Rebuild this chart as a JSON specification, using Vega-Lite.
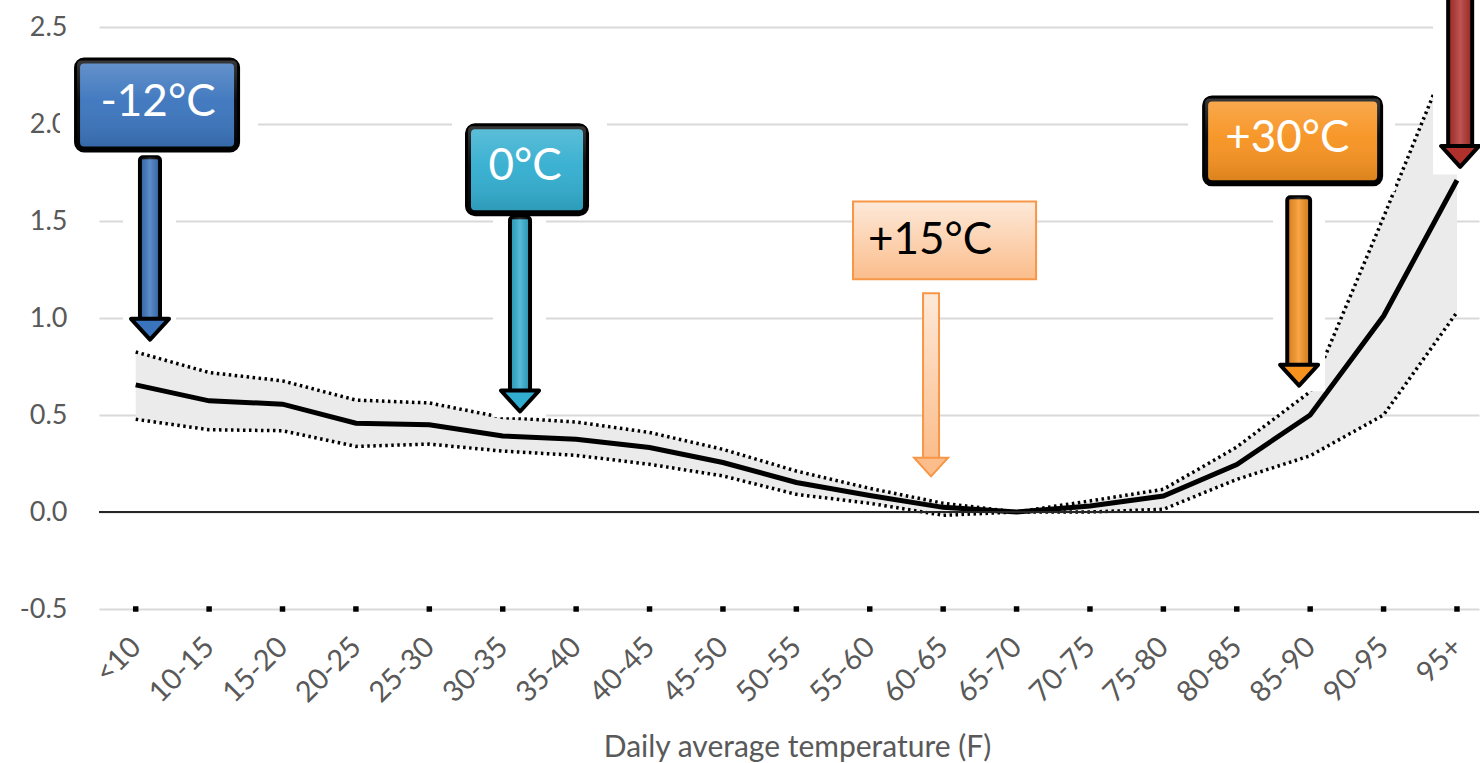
{
  "$schema": "https://vega.github.io/schema/vega-lite/v6.json",
  "width": 1380,
  "height": 582,
  "autosize": "none",
  "padding": {"left": 99, "top": 27, "right": 1, "bottom": 154},
  "background": "white",
  "config": {
    "view": {"stroke": null},
    "font": "Lato",
    "axis": {"labelFont": "Lato", "labelFontSize": 27, "labelColor": "#595959", "titleFont": "Lato", "titleFontSize": 30, "titleColor": "#595959", "titleFontWeight": "normal"}
  },
  "datasets": {
    "series": [
      {"cat": "<10", "x": 0, "mid": 0.655, "lo": 0.478, "hi": 0.825},
      {"cat": "10-15", "x": 1, "mid": 0.573, "lo": 0.424, "hi": 0.719},
      {"cat": "15-20", "x": 2, "mid": 0.556, "lo": 0.419, "hi": 0.676},
      {"cat": "20-25", "x": 3, "mid": 0.458, "lo": 0.338, "hi": 0.577},
      {"cat": "25-30", "x": 4, "mid": 0.45, "lo": 0.35, "hi": 0.562},
      {"cat": "30-35", "x": 5, "mid": 0.392, "lo": 0.314, "hi": 0.487},
      {"cat": "35-40", "x": 6, "mid": 0.375, "lo": 0.292, "hi": 0.464},
      {"cat": "40-45", "x": 7, "mid": 0.332, "lo": 0.246, "hi": 0.41},
      {"cat": "45-50", "x": 8, "mid": 0.255, "lo": 0.186, "hi": 0.323},
      {"cat": "50-55", "x": 9, "mid": 0.152, "lo": 0.091, "hi": 0.211},
      {"cat": "55-60", "x": 10, "mid": 0.085, "lo": 0.045, "hi": 0.122},
      {"cat": "60-65", "x": 11, "mid": 0.024, "lo": -0.017, "hi": 0.045},
      {"cat": "65-70", "x": 12, "mid": 0.0, "lo": 0.0, "hi": 0.0},
      {"cat": "70-75", "x": 13, "mid": 0.031, "lo": 0.0, "hi": 0.057},
      {"cat": "75-80", "x": 14, "mid": 0.082, "lo": 0.014, "hi": 0.117},
      {"cat": "80-85", "x": 15, "mid": 0.245, "lo": 0.168, "hi": 0.335},
      {"cat": "85-90", "x": 16, "mid": 0.5, "lo": 0.29, "hi": 0.62},
      {"cat": "90-95", "x": 17, "mid": 1.01, "lo": 0.5, "hi": 1.52},
      {"cat": "95+", "x": 18, "mid": 1.71, "lo": 1.03, "hi": 2.45}
    ],
    "bg": [
      {"x": -1.031, "x2": 1.666, "y": 2.436, "y2": 1.838},
      {"x": -0.173, "x2": 0.549, "y": 1.838, "y2": 0.865},
      {"x": 4.309, "x2": 6.42, "y": 2.065, "y2": 1.535},
      {"x": 4.868, "x2": 5.59, "y": 1.535, "y2": 0.489},
      {"x": 14.337, "x2": 17.157, "y": 2.204, "y2": 1.653},
      {"x": 15.494, "x2": 16.203, "y": 1.653, "y2": 0.623},
      {"x": 17.674, "x2": 18.4, "y": 2.693, "y2": 1.74}
    ],
    "boxes": [
      {"label": "-12°C", "x": -0.799, "x2": 1.381, "y": 2.327, "y2": 1.869, "tx": 0.304, "ty": 2.11},
      {"label": "0°C", "x": 4.527, "x2": 6.135, "y": 1.988, "y2": 1.54, "tx": 5.305, "ty": 1.777},
      {"label": "+30°C", "x": 14.569, "x2": 16.953, "y": 2.132, "y2": 1.694, "tx": 15.688, "ty": 1.921}
    ],
    "box15": [
      {"label": "+15°C", "x": 9.772, "x2": 12.266, "y": 1.601, "y2": 1.2, "tx": 10.821, "ty": 1.395}
    ],
    "shafts": [
      {"label": "-12°C", "x": 0.058, "x2": 0.331, "y": 1.828, "y2": 0.994},
      {"label": "0°C", "x": 5.099, "x2": 5.372, "y": 1.519, "y2": 0.608},
      {"label": "+30°C", "x": 15.688, "x2": 15.999, "y": 1.622, "y2": 0.747},
      {"label": "95+", "x": 17.88, "x2": 18.207, "y": 2.667, "y2": 1.869}
    ],
    "shaft15": [
      {"label": "+15°C", "x": 10.726, "x2": 10.944, "y": 1.128, "y2": 0.273}
    ],
    "heads": [
      {"label": "-12°C", "x": 0.195, "y": 0.942},
      {"label": "0°C", "x": 5.236, "y": 0.572},
      {"label": "+30°C", "x": 15.849, "y": 0.705},
      {"label": "95+", "x": 18.043, "y": 1.833}
    ],
    "head15": [
      {"label": "+15°C", "x": 10.835, "y": 0.232}
    ]
  },
  "encoding": {
    "x": {
      "field": "x",
      "type": "quantitative",
      "scale": {"domain": [-0.5, 18.3], "nice": false, "zero": false},
      "axis": {
        "values": [0, 1, 2, 3, 4, 5, 6, 7, 8, 9, 10, 11, 12, 13, 14, 15, 16, 17, 18],
        "labelExpr": "['<10','10-15','15-20','20-25','25-30','30-35','35-40','40-45','45-50','50-55','55-60','60-65','65-70','70-75','75-80','80-85','85-90','90-95','95+'][datum.value]",
        "labelAngle": -45,
        "labelAlign": "right",
        "labelBaseline": "middle",
        "labelFontSize": 29,
        "labelPadding": 33,
        "labelOverlap": false,
        "labelBound": false,
        "labelFlush": false,
        "grid": false,
        "ticks": false,
        "domain": false,
        "title": "Daily average temperature (F)",
        "titleX": 698,
        "titleY": 147,
        "titleBaseline": "alphabetic"
      }
    }
  },
  "layer": [
    {
      "data": {"name": "series"},
      "mark": {"type": "area", "color": "#ebebeb", "opacity": 1},
      "encoding": {
        "y": {"field": "lo", "type": "quantitative", "scale": {"domain": [-0.5, 2.5], "nice": false, "zero": false}, "axis": {"values": [-0.5, 0, 0.5, 1, 1.5, 2, 2.5], "format": ".1f", "labelExpr": "replace(datum.label, '\u2212', '-')", "grid": true, "gridColor": "#d9d9d9", "gridWidth": 2, "ticks": false, "domain": false, "labelPadding": 32, "title": null}},
        "y2": {"field": "hi"}
      }
    },
    {
      "data": {"name": "series"},
      "mark": {"type": "line", "color": "black", "strokeWidth": 3.5, "strokeDash": [2.5, 3.5]},
      "encoding": {"y": {"field": "hi", "type": "quantitative", "scale": {"domain": [-0.5, 2.5], "nice": false, "zero": false}, "axis": {"values": [-0.5, 0, 0.5, 1, 1.5, 2, 2.5], "format": ".1f", "labelExpr": "replace(datum.label, '\u2212', '-')", "grid": true, "gridColor": "#d9d9d9", "gridWidth": 2, "ticks": false, "domain": false, "labelPadding": 32, "title": null}}}
    },
    {
      "data": {"name": "series"},
      "mark": {"type": "line", "color": "black", "strokeWidth": 3.5, "strokeDash": [2.5, 3.5]},
      "encoding": {"y": {"field": "lo", "type": "quantitative", "scale": {"domain": [-0.5, 2.5], "nice": false, "zero": false}, "axis": {"values": [-0.5, 0, 0.5, 1, 1.5, 2, 2.5], "format": ".1f", "labelExpr": "replace(datum.label, '\u2212', '-')", "grid": true, "gridColor": "#d9d9d9", "gridWidth": 2, "ticks": false, "domain": false, "labelPadding": 32, "title": null}}}
    },
    {
      "data": {"name": "series"},
      "mark": {"type": "line", "color": "black", "strokeWidth": 5},
      "encoding": {"y": {"field": "mid", "type": "quantitative", "scale": {"domain": [-0.5, 2.5], "nice": false, "zero": false}, "axis": {"values": [-0.5, 0, 0.5, 1, 1.5, 2, 2.5], "format": ".1f", "labelExpr": "replace(datum.label, '\u2212', '-')", "grid": true, "gridColor": "#d9d9d9", "gridWidth": 2, "ticks": false, "domain": false, "labelPadding": 32, "title": null}}}
    },
    {
      "data": {"values": [{}]},
      "mark": {"type": "rule", "color": "#262626", "strokeWidth": 2},
      "encoding": {"x": null, "y": {"datum": 0, "type": "quantitative", "scale": {"domain": [-0.5, 2.5], "nice": false, "zero": false}, "axis": {"values": [-0.5, 0, 0.5, 1, 1.5, 2, 2.5], "format": ".1f", "labelExpr": "replace(datum.label, '\u2212', '-')", "grid": true, "gridColor": "#d9d9d9", "gridWidth": 2, "ticks": false, "domain": false, "labelPadding": 32, "title": null}}}
    },
    {
      "data": {"name": "series"},
      "mark": {"type": "point", "shape": "square", "filled": true, "color": "black", "size": 30, "opacity": 1},
      "encoding": {"y": {"datum": -0.5, "type": "quantitative", "scale": {"domain": [-0.5, 2.5], "nice": false, "zero": false}, "axis": {"values": [-0.5, 0, 0.5, 1, 1.5, 2, 2.5], "format": ".1f", "labelExpr": "replace(datum.label, '\u2212', '-')", "grid": true, "gridColor": "#d9d9d9", "gridWidth": 2, "ticks": false, "domain": false, "labelPadding": 32, "title": null}}}
    },
    {
      "data": {"name": "bg"},
      "mark": {"type": "rect", "color": "white", "clip": false},
      "encoding": {
        "x2": {"field": "x2"},
        "y": {"field": "y", "type": "quantitative", "scale": {"domain": [-0.5, 2.5], "nice": false, "zero": false}, "axis": {"values": [-0.5, 0, 0.5, 1, 1.5, 2, 2.5], "format": ".1f", "labelExpr": "replace(datum.label, '\u2212', '-')", "grid": true, "gridColor": "#d9d9d9", "gridWidth": 2, "ticks": false, "domain": false, "labelPadding": 32, "title": null}},
        "y2": {"field": "y2"}
      }
    },
    {
      "data": {"name": "boxes"},
      "mark": {"type": "rect", "stroke": "black", "strokeWidth": 6, "cornerRadius": 7, "opacity": 1},
      "encoding": {
        "x2": {"field": "x2"},
        "y": {"field": "y", "type": "quantitative", "scale": {"domain": [-0.5, 2.5], "nice": false, "zero": false}, "axis": {"values": [-0.5, 0, 0.5, 1, 1.5, 2, 2.5], "format": ".1f", "labelExpr": "replace(datum.label, '\u2212', '-')", "grid": true, "gridColor": "#d9d9d9", "gridWidth": 2, "ticks": false, "domain": false, "labelPadding": 32, "title": null}},
        "y2": {"field": "y2"},
        "fill": {"field": "label", "type": "nominal", "scale": {"domain": ["-12°C", "0°C", "+30°C", "95+"], "range": ["#3a74bd", "#31adcf", "#f7921f", "#b0302c"]}, "legend": null}
      }
    },
    {
      "data": {"name": "boxes"},
      "mark": {"type": "rect", "cornerRadius": 4, "fill": {"gradient": "linear", "x1": 0, "y1": 0, "x2": 0, "y2": 1, "stops": [{"offset": 0, "color": "rgba(255,255,255,0.22)"}, {"offset": 0.45, "color": "rgba(255,255,255,0.05)"}, {"offset": 1, "color": "rgba(0,0,0,0.12)"}]}},
      "encoding": {
        "x2": {"field": "x2"},
        "y": {"field": "y", "type": "quantitative", "scale": {"domain": [-0.5, 2.5], "nice": false, "zero": false}, "axis": {"values": [-0.5, 0, 0.5, 1, 1.5, 2, 2.5], "format": ".1f", "labelExpr": "replace(datum.label, '\u2212', '-')", "grid": true, "gridColor": "#d9d9d9", "gridWidth": 2, "ticks": false, "domain": false, "labelPadding": 32, "title": null}},
        "y2": {"field": "y2"}
      }
    },
    {
      "data": {"name": "box15"},
      "mark": {"type": "rect", "stroke": "#f79646", "strokeWidth": 2, "fill": {"gradient": "linear", "x1": 0, "y1": 0, "x2": 0, "y2": 1, "stops": [{"offset": 0, "color": "#fde9d9"}, {"offset": 1, "color": "#fbbd8b"}]}},
      "encoding": {
        "x2": {"field": "x2"},
        "y": {"field": "y", "type": "quantitative", "scale": {"domain": [-0.5, 2.5], "nice": false, "zero": false}, "axis": {"values": [-0.5, 0, 0.5, 1, 1.5, 2, 2.5], "format": ".1f", "labelExpr": "replace(datum.label, '\u2212', '-')", "grid": true, "gridColor": "#d9d9d9", "gridWidth": 2, "ticks": false, "domain": false, "labelPadding": 32, "title": null}},
        "y2": {"field": "y2"}
      }
    },
    {
      "data": {"name": "shafts"},
      "mark": {"type": "rect", "stroke": "black", "strokeWidth": 4, "cornerRadius": 3, "clip": false},
      "encoding": {
        "x2": {"field": "x2"},
        "y": {"field": "y", "type": "quantitative", "scale": {"domain": [-0.5, 2.5], "nice": false, "zero": false}, "axis": {"values": [-0.5, 0, 0.5, 1, 1.5, 2, 2.5], "format": ".1f", "labelExpr": "replace(datum.label, '\u2212', '-')", "grid": true, "gridColor": "#d9d9d9", "gridWidth": 2, "ticks": false, "domain": false, "labelPadding": 32, "title": null}},
        "y2": {"field": "y2"},
        "fill": {"field": "label", "type": "nominal", "scale": {"domain": ["-12°C", "0°C", "+30°C", "95+"], "range": ["#3a74bd", "#31adcf", "#f7921f", "#b0302c"]}, "legend": null}
      }
    },
    {
      "data": {"name": "shafts"},
      "mark": {"type": "rect", "clip": false, "fill": {"gradient": "linear", "x1": 0, "y1": 0, "x2": 1, "y2": 0, "stops": [{"offset": 0, "color": "rgba(0,0,0,0.12)"}, {"offset": 0.5, "color": "rgba(255,255,255,0.18)"}, {"offset": 1, "color": "rgba(0,0,0,0.15)"}]}},
      "encoding": {
        "x2": {"field": "x2"},
        "y": {"field": "y", "type": "quantitative", "scale": {"domain": [-0.5, 2.5], "nice": false, "zero": false}, "axis": {"values": [-0.5, 0, 0.5, 1, 1.5, 2, 2.5], "format": ".1f", "labelExpr": "replace(datum.label, '\u2212', '-')", "grid": true, "gridColor": "#d9d9d9", "gridWidth": 2, "ticks": false, "domain": false, "labelPadding": 32, "title": null}},
        "y2": {"field": "y2"}
      }
    },
    {
      "data": {"name": "shaft15"},
      "mark": {"type": "rect", "stroke": "#f79646", "strokeWidth": 2, "fill": {"gradient": "linear", "x1": 0, "y1": 0, "x2": 0, "y2": 1, "stops": [{"offset": 0, "color": "#fde9d9"}, {"offset": 1, "color": "#fbbd8b"}]}},
      "encoding": {
        "x2": {"field": "x2"},
        "y": {"field": "y", "type": "quantitative", "scale": {"domain": [-0.5, 2.5], "nice": false, "zero": false}, "axis": {"values": [-0.5, 0, 0.5, 1, 1.5, 2, 2.5], "format": ".1f", "labelExpr": "replace(datum.label, '\u2212', '-')", "grid": true, "gridColor": "#d9d9d9", "gridWidth": 2, "ticks": false, "domain": false, "labelPadding": 32, "title": null}},
        "y2": {"field": "y2"}
      }
    },
    {
      "data": {"name": "heads"},
      "mark": {"type": "point", "shape": "M-1,-0.55L1,-0.55L0,0.55Z", "size": 1444, "filled": true, "opacity": 1, "stroke": "black", "strokeWidth": 4, "strokeJoin": "round"},
      "encoding": {
        "y": {"field": "y", "type": "quantitative", "scale": {"domain": [-0.5, 2.5], "nice": false, "zero": false}, "axis": {"values": [-0.5, 0, 0.5, 1, 1.5, 2, 2.5], "format": ".1f", "labelExpr": "replace(datum.label, '\u2212', '-')", "grid": true, "gridColor": "#d9d9d9", "gridWidth": 2, "ticks": false, "domain": false, "labelPadding": 32, "title": null}},
        "fill": {"field": "label", "type": "nominal", "scale": {"domain": ["-12°C", "0°C", "+30°C", "95+"], "range": ["#3a74bd", "#31adcf", "#f7921f", "#b0302c"]}, "legend": null}
      }
    },
    {
      "data": {"name": "head15"},
      "mark": {"type": "point", "shape": "M-1,-0.55L1,-0.55L0,0.55Z", "size": 1156, "filled": true, "opacity": 1, "fill": "#fbbd8b", "stroke": "#f79646", "strokeWidth": 2},
      "encoding": {
        "y": {"field": "y", "type": "quantitative", "scale": {"domain": [-0.5, 2.5], "nice": false, "zero": false}, "axis": {"values": [-0.5, 0, 0.5, 1, 1.5, 2, 2.5], "format": ".1f", "labelExpr": "replace(datum.label, '\u2212', '-')", "grid": true, "gridColor": "#d9d9d9", "gridWidth": 2, "ticks": false, "domain": false, "labelPadding": 32, "title": null}}
      }
    },
    {
      "data": {"name": "boxes"},
      "mark": {"type": "text", "color": "white", "fontSize": 44, "font": "Lato", "baseline": "middle", "align": "center"},
      "encoding": {
        "x": {"field": "tx", "type": "quantitative"},
        "y": {"field": "ty", "type": "quantitative", "scale": {"domain": [-0.5, 2.5], "nice": false, "zero": false}, "axis": {"values": [-0.5, 0, 0.5, 1, 1.5, 2, 2.5], "format": ".1f", "labelExpr": "replace(datum.label, '\u2212', '-')", "grid": true, "gridColor": "#d9d9d9", "gridWidth": 2, "ticks": false, "domain": false, "labelPadding": 32, "title": null}},
        "text": {"field": "label"}
      }
    },
    {
      "data": {"name": "box15"},
      "mark": {"type": "text", "color": "black", "fontSize": 44, "font": "Lato", "baseline": "middle", "align": "center"},
      "encoding": {
        "x": {"field": "tx", "type": "quantitative"},
        "y": {"field": "ty", "type": "quantitative", "scale": {"domain": [-0.5, 2.5], "nice": false, "zero": false}, "axis": {"values": [-0.5, 0, 0.5, 1, 1.5, 2, 2.5], "format": ".1f", "labelExpr": "replace(datum.label, '\u2212', '-')", "grid": true, "gridColor": "#d9d9d9", "gridWidth": 2, "ticks": false, "domain": false, "labelPadding": 32, "title": null}},
        "text": {"field": "label"}
      }
    }
  ]
}
